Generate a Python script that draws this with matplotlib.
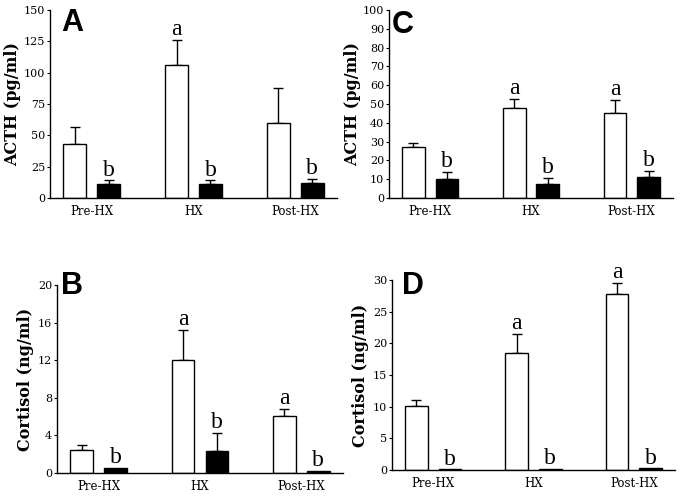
import matplotlib
matplotlib.use("Agg")
import matplotlib.pyplot as plt
import numpy as np

groups = ["Pre-HX", "HX", "Post-HX"]

# Panel A: ACTH (pg/ml)
A_open = [43, 106, 60]
A_open_err = [14, 20, 28]
A_black = [11, 11.5, 12]
A_black_err = [3, 2.5, 3]
A_open_lab = ["", "a", ""]
A_black_lab = ["b", "b", "b"]

# Panel C: ACTH (pg/ml)
C_open = [27, 48, 45]
C_open_err = [2, 4.5, 7]
C_black = [10, 7.5, 11]
C_black_err = [4, 3, 3.5]
C_open_lab = ["", "a", "a"]
C_black_lab = ["b", "b", "b"]

# Panel B: Cortisol (ng/ml)
B_open = [2.4, 12.0, 6.1]
B_open_err = [0.6, 3.2, 0.7]
B_black = [0.5, 2.3, 0.25]
B_black_err = [0, 2.0, 0]
B_open_lab = ["", "a", "a"]
B_black_lab = ["b", "b", "b"]

# Panel D: Cortisol (ng/ml)
D_open = [10.1, 18.5, 27.8]
D_open_err = [0.9, 3.0, 1.8]
D_black = [0.1, 0.2, 0.25]
D_black_err = [0, 0, 0]
D_open_lab = ["", "a", "a"]
D_black_lab = ["b", "b", "b"]

W, H = 685, 498
fig = plt.figure(figsize=(W / 100, H / 100), dpi=100)

SERIF = ["DejaVu Serif"]
TIMES = ["Liberation Serif", "DejaVu Serif"]
SANS = ["Liberation Sans", "DejaVu Sans"]


def px_axes(l, r, t, b):
    return fig.add_axes([l / W, 1 - b / H, (r - l) / W, (b - t) / H])


def draw(ax, opn, opn_err, blk, blk_err, olab, blab, ymax, ystep, ylabel,
         letter, letter_xy, ylabel_x):
    x = np.arange(len(groups))
    off = 0.167
    bw = 0.225
    ax.bar(x - off, opn, width=bw, color="white", edgecolor="black",
           linewidth=1.0, zorder=2)
    ax.bar(x + off, blk, width=bw, color="black", edgecolor="black",
           linewidth=1.0, zorder=2)
    for xs, vals, errs in ((x - off, opn, opn_err), (x + off, blk, blk_err)):
        idx = [i for i, e in enumerate(errs) if e > 0]
        if idx:
            ax.errorbar([xs[i] for i in idx], [vals[i] for i in idx],
                        yerr=[[0] * len(idx), [errs[i] for i in idx]],
                        fmt="none", ecolor="black", elinewidth=1.0,
                        capsize=3.5, capthick=1.0, zorder=1)
    for xs, vals, errs, labs in ((x - off, opn, opn_err, olab),
                                 (x + off, blk, blk_err, blab)):
        for i, lab in enumerate(labs):
            if lab:
                ax.annotate(lab, (xs[i], vals[i] + errs[i]),
                            xytext=(0, 3.5), textcoords="offset points",
                            ha="center", va="baseline", fontsize=17,
                            family=TIMES)
    ax.set_xlim(-0.41, 2.41)
    ax.set_ylim(0, ymax)
    ax.set_yticks(np.arange(0, ymax + ystep / 2, ystep))
    ax.set_xticks(x)
    ax.set_xticklabels(groups, family=SERIF, fontsize=8.5)
    for t in ax.get_yticklabels():
        t.set_family(SERIF)
        t.set_fontsize(8)
    ax.tick_params(axis="x", length=0, pad=5)
    ax.tick_params(axis="y", direction="out", length=2.5, width=0.8, pad=1)
    for s in ("top", "right"):
        ax.spines[s].set_visible(False)
    for s in ("left", "bottom"):
        ax.spines[s].set_linewidth(1.0)
    ax.set_ylabel(ylabel, family=SERIF, fontweight="bold", fontsize=11.5)
    ax.yaxis.set_label_coords(ylabel_x / W, 0.5,
                              transform=fig.transFigure)
    fig.text(letter_xy[0] / W, 1 - letter_xy[1] / H, letter, family=SANS,
             fontweight="bold", fontsize=22, ha="left", va="top")


axA = px_axes(50, 337, 10, 198)
draw(axA, A_open, A_open_err, A_black, A_black_err, A_open_lab, A_black_lab,
     150, 25, "ACTH (pg/ml)", "A", (61, 8), 21)

axC = px_axes(389, 673, 10, 198)
draw(axC, C_open, C_open_err, C_black, C_black_err, C_open_lab, C_black_lab,
     100, 10, "ACTH (pg/ml)", "C", (392, 10), 361)

axB = px_axes(57, 343, 285, 473)
draw(axB, B_open, B_open_err, B_black, B_black_err, B_open_lab, B_black_lab,
     20, 4, "Cortisol (ng/ml)", "B", (61, 271), 34)

axD = px_axes(392, 675, 280, 470)
draw(axD, D_open, D_open_err, D_black, D_black_err, D_open_lab, D_black_lab,
     30, 5, "Cortisol (ng/ml)", "D", (402, 271), 369)

for ax in (axA, axC, axB, axD):
    bb = ax.get_position()
    ax.yaxis.label.set_y((bb.y0 + bb.y1) / 2)

fig.savefig("out.png", dpi=100)
